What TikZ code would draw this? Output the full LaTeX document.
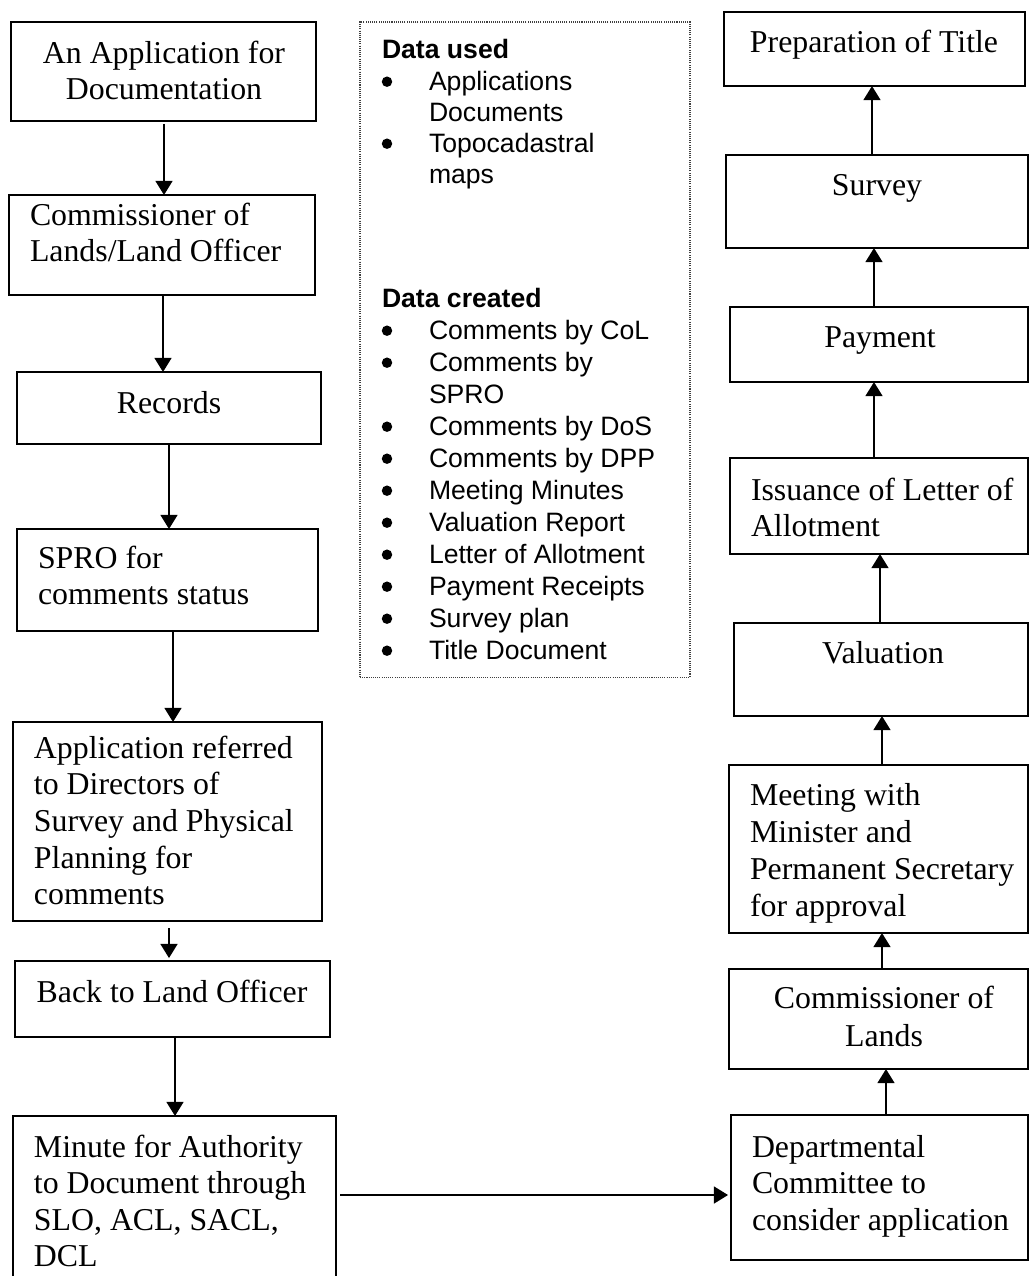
\documentclass[tikz,border=0pt]{standalone}
\usepackage{fontspec}
\setmainfont{Liberation Serif}
\setsansfont{Liberation Sans}
\usetikzlibrary{arrows.meta,fit}

\tikzset{
  stepbox/.style={draw, line width=1.1pt, inner sep=0pt, outer sep=0pt},
  notebox/.style={draw=black!75, line width=0.45pt, dash pattern=on 0.45pt off 0.5pt, inner sep=0pt, outer sep=0pt},
  serif/.style={font=\fontsize{14pt}{16pt}\selectfont, inner sep=0pt, outer sep=0pt},
  sanstxt/.style={font=\sffamily\fontsize{11.7pt}{14pt}\selectfont, inner sep=0pt, outer sep=0pt},
  sanshead/.style={font=\sffamily\bfseries\fontsize{11.7pt}{14pt}\selectfont, inner sep=0pt, outer sep=0pt},
  flow/.style={line width=0.9pt, -{Triangle[width=7.4pt,length=6.2pt]}},
}

% rows of text: name, style, anchor, x, first baseline, line pitch, lines
\newcommand\textrows[7]{%
  \foreach \l [count=\i] in {#7}{\node[#2, anchor=#3] (#1-\i) at (#4,{#5+(\i-1)*#6}) {\l};}}
% list bullet placed against a baseline
\newcommand\listmark[1]{\fill (387,#1-8.3) circle[radius=2.3pt];}

\begin{document}
\begin{tikzpicture}[x=0.44pt, y=-0.44pt]
\fill[white] (0,0) rectangle (1030,1276);
\clip (0,0) rectangle (1030,1276);

% ---- left column: application route ----
\node[stepbox, fit={(11,22) (316,121)}] (b1) {};
\textrows{t1}{serif}{base}{164}{63}{36.7}{An Application for, Documentation}

\node[stepbox, fit={(9,195) (315,295)}] (b2) {};
\textrows{t2}{serif}{base west}{30}{225}{36.7}{Commissioner of, Lands/Land Officer}

\node[stepbox, fit={(17,372) (321,444)}] (b3) {};
\textrows{t3}{serif}{base}{169}{413}{36.7}{Records}

\node[stepbox, fit={(17,529) (318,631)}] (b4) {};
\textrows{t4}{serif}{base west}{38}{568}{36.7}{SPRO for, comments status}

\node[stepbox, fit={(13,722) (322,921)}] (b5) {};
\textrows{t5}{serif}{base west}{34}{758}{36.7}{Application referred, to Directors of, Survey and Physical, Planning for, comments}

\node[stepbox, fit={(15,961) (330,1037)}] (b6) {};
\textrows{t6}{serif}{base}{172}{1002}{36.7}{Back to Land Officer}

\node[stepbox, fit={(13,1116) (336,1310)}] (b7) {};
\textrows{t7}{serif}{base west}{34}{1157}{36.5}{Minute for Authority, to Document through, {SLO, ACL, SACL,}, DCL}

\draw[flow, shorten <=1.3pt] (b1.south -| 164,0) -- (b2.north -| 164,0);
\draw[flow] (b2.south -| 163,0) -- (b3.north -| 163,0);
\draw[flow] (b3.south -| 169,0) -- (b4.north -| 169,0);
\draw[flow] (b4.south -| 173,0) -- (b5.north -| 173,0);
\draw[flow, shorten <=3.1pt, shorten >=1.3pt] (b5.south -| 169,0) -- (b6.north -| 169,0);
\draw[flow] (b6.south -| 175,0) -- (b7.north -| 175,0);

% ---- data summary ----
\node[notebox, fit={(360,22) (690,677)}] (data) {};
\node[sanshead, anchor=base west] (h1) at (382,58) {Data used};
\textrows{u}{sanstxt}{base west}{429}{90}{31}{Applications, Documents, Topocadastral, maps}
\listmark{90}\listmark{152}
\node[sanshead, anchor=base west] (h2) at (382,307) {Data created};
\textrows{c}{sanstxt}{base west}{429}{339}{32}{Comments by CoL, Comments by, SPRO, Comments by DoS, Comments by DPP, Meeting Minutes, Valuation Report, Letter of Allotment, Payment Receipts, Survey plan, Title Document}
\foreach \yy in {339,371,435,467,499,531,563,595,627,659}{\listmark{\yy}}

% ---- right column: approval route (bottom to top) ----
\node[stepbox, fit={(724,12) (1025,86)}] (r1) {};
\textrows{s1}{serif}{base}{874}{52}{36.7}{Preparation of Title}

\node[stepbox, fit={(726,155) (1028,248)}] (r2) {};
\textrows{s2}{serif}{base}{877}{195}{36.7}{Survey}

\node[stepbox, fit={(730,307) (1028,382)}] (r3) {};
\textrows{s3}{serif}{base}{880}{347}{36.7}{Payment}

\node[stepbox, fit={(730,458) (1028,554)}] (r4) {};
\textrows{s4}{serif}{base west}{751}{500}{36.7}{Issuance of Letter of, Allotment}

\node[stepbox, fit={(734,623) (1028,716)}] (r5) {};
\textrows{s5}{serif}{base}{883}{663}{36.7}{Valuation}

\node[stepbox, fit={(729,765) (1028,933)}] (r6) {};
\textrows{s6}{serif}{base west}{750}{805}{37}{Meeting with, Minister and, Permanent Secretary, for approval}

\node[stepbox, fit={(729,969) (1028,1069)}] (r7) {};
\textrows{s7}{serif}{base}{884}{1008}{38}{Commissioner of, Lands}

\node[stepbox, fit={(731,1115) (1028,1260)}] (r8) {};
\textrows{s8}{serif}{base west}{752}{1157}{36.5}{Departmental, Committee to, consider application}

\draw[flow] (r2.north -| 872,0) -- (r1.south -| 872,0);
\draw[flow] (r3.north -| 874,0) -- (r2.south -| 874,0);
\draw[flow] (r4.north -| 874,0) -- (r3.south -| 874,0);
\draw[flow] (r5.north -| 880,0) -- (r4.south -| 880,0);
\draw[flow] (r6.north -| 882,0) -- (r5.south -| 882,0);
\draw[flow] (r7.north -| 882,0) -- (r6.south -| 882,0);
\draw[flow] (r8.north -| 886,0) -- (r7.south -| 886,0);

% ---- hand-over to the departmental committee ----
\draw[flow, shorten <=1.8pt, shorten >=1.3pt] (b7.east |- 0,1195) -- (r8.west |- 0,1195);
\end{tikzpicture}
\end{document}
